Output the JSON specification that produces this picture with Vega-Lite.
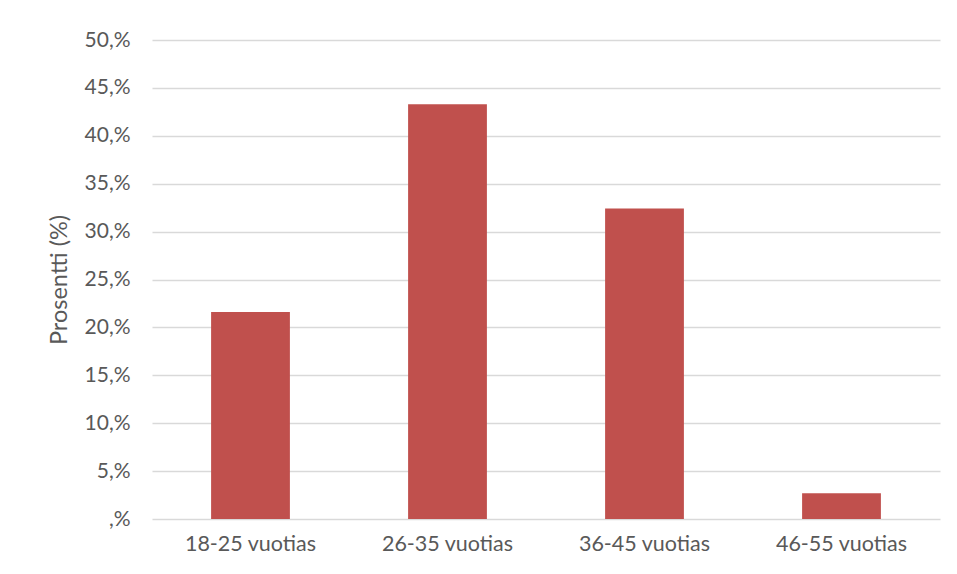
{
  "$schema": "https://vega.github.io/schema/vega-lite/v6.json",
  "width": 788,
  "height": 479,
  "autosize": {"type": "none"},
  "padding": {"left": 152, "top": 40, "right": 17, "bottom": 55},
  "background": "#ffffff",
  "config": {
    "view": {"stroke": null},
    "font": "Lato"
  },
  "data": {
    "values": [
      {"ryhma": "18-25 vuotias", "prosentti": 21.6},
      {"ryhma": "26-35 vuotias", "prosentti": 43.3},
      {"ryhma": "36-45 vuotias", "prosentti": 32.4},
      {"ryhma": "46-55 vuotias", "prosentti": 2.7}
    ]
  },
  "mark": {"type": "bar", "color": "#C0504D"},
  "encoding": {
    "x": {
      "field": "ryhma",
      "type": "nominal",
      "sort": null,
      "scale": {"paddingInner": 0.6, "paddingOuter": 0.3},
      "axis": {
        "title": null,
        "labelAngle": 0,
        "domain": false,
        "ticks": false,
        "labelPadding": 14,
        "labelFontSize": 21.5,
        "labelColor": "#595959",
        "labelFont": "Lato"
      }
    },
    "y": {
      "field": "prosentti",
      "type": "quantitative",
      "scale": {"domain": [0, 50], "nice": false},
      "axis": {
        "title": "Prosentti (%)",
        "titleFontSize": 23.5,
        "titleFontWeight": "normal",
        "titleColor": "#595959",
        "titlePadding": 13,
        "values": [0, 5, 10, 15, 20, 25, 30, 35, 40, 45, 50],
        "labelExpr": "datum.value == 0 ? ',%' : format(datum.value, 'd') + ',%'",
        "domain": false,
        "ticks": false,
        "labelPadding": 22,
        "labelFontSize": 21,
        "labelColor": "#595959",
        "gridColor": "#D9D9D9",
        "gridWidth": 1.3
      }
    }
  }
}
